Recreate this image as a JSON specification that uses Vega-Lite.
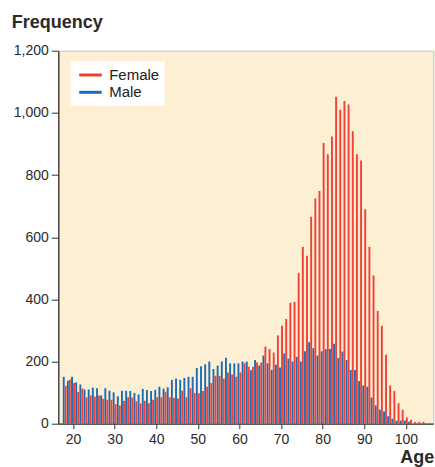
{
  "$schema": "https://vega.github.io/schema/vega-lite/v6.json",
  "width": 375,
  "height": 373,
  "autosize": {"type": "none"},
  "padding": {"left": 58.3, "top": 50.7, "right": 1.7, "bottom": 43},
  "background": "#ffffff",
  "config": {
    "view": {"fill": "#fdefd4", "stroke": "#c4c4c4", "strokeWidth": 1},
    "font": "Liberation Sans",
    "axis": {"labelFont": "Liberation Sans", "titleFont": "Liberation Sans", "labelColor": "#2a2a2a", "titleColor": "#2a2a2a", "domainColor": "#333333", "tickColor": "#333333", "grid": false}
  },
  "data": {"values": [
    {"age":18,"sex":"Female","n":122},{"age":18,"sex":"Male","n":151},
    {"age":19,"sex":"Female","n":142},{"age":19,"sex":"Male","n":138},
    {"age":20,"sex":"Female","n":131},{"age":20,"sex":"Male","n":151},
    {"age":21,"sex":"Female","n":102},{"age":21,"sex":"Male","n":133},
    {"age":22,"sex":"Female","n":113},{"age":22,"sex":"Male","n":126},
    {"age":23,"sex":"Female","n":84},{"age":23,"sex":"Male","n":110},
    {"age":24,"sex":"Female","n":91},{"age":24,"sex":"Male","n":110},
    {"age":25,"sex":"Female","n":87},{"age":25,"sex":"Male","n":116},
    {"age":26,"sex":"Female","n":91},{"age":26,"sex":"Male","n":114},
    {"age":27,"sex":"Female","n":80},{"age":27,"sex":"Male","n":91},
    {"age":28,"sex":"Female","n":77},{"age":28,"sex":"Male","n":114},
    {"age":29,"sex":"Female","n":77},{"age":29,"sex":"Male","n":106},
    {"age":30,"sex":"Female","n":63},{"age":30,"sex":"Male","n":101},
    {"age":31,"sex":"Female","n":59},{"age":31,"sex":"Male","n":88},
    {"age":32,"sex":"Female","n":74},{"age":32,"sex":"Male","n":106},
    {"age":33,"sex":"Female","n":85},{"age":33,"sex":"Male","n":106},
    {"age":34,"sex":"Female","n":84},{"age":34,"sex":"Male","n":105},
    {"age":35,"sex":"Female","n":72},{"age":35,"sex":"Male","n":99},
    {"age":36,"sex":"Female","n":65},{"age":36,"sex":"Male","n":94},
    {"age":37,"sex":"Female","n":74},{"age":37,"sex":"Male","n":112},
    {"age":38,"sex":"Female","n":66},{"age":38,"sex":"Male","n":108},
    {"age":39,"sex":"Female","n":77},{"age":39,"sex":"Male","n":105},
    {"age":40,"sex":"Female","n":85},{"age":40,"sex":"Male","n":109},
    {"age":41,"sex":"Female","n":85},{"age":41,"sex":"Male","n":119},
    {"age":42,"sex":"Female","n":103},{"age":42,"sex":"Male","n":113},
    {"age":43,"sex":"Female","n":85},{"age":43,"sex":"Male","n":117},
    {"age":44,"sex":"Female","n":83},{"age":44,"sex":"Male","n":141},
    {"age":45,"sex":"Female","n":81},{"age":45,"sex":"Male","n":145},
    {"age":46,"sex":"Female","n":106},{"age":46,"sex":"Male","n":141},
    {"age":47,"sex":"Female","n":85},{"age":47,"sex":"Male","n":147},
    {"age":48,"sex":"Female","n":114},{"age":48,"sex":"Male","n":151},
    {"age":49,"sex":"Female","n":99},{"age":49,"sex":"Male","n":151},
    {"age":50,"sex":"Female","n":98},{"age":50,"sex":"Male","n":179},
    {"age":51,"sex":"Female","n":105},{"age":51,"sex":"Male","n":185},
    {"age":52,"sex":"Female","n":119},{"age":52,"sex":"Male","n":191},
    {"age":53,"sex":"Female","n":131},{"age":53,"sex":"Male","n":200},
    {"age":54,"sex":"Female","n":154},{"age":54,"sex":"Male","n":176},
    {"age":55,"sex":"Female","n":154},{"age":55,"sex":"Male","n":187},
    {"age":56,"sex":"Female","n":145},{"age":56,"sex":"Male","n":200},
    {"age":57,"sex":"Female","n":165},{"age":57,"sex":"Male","n":212},
    {"age":58,"sex":"Female","n":158},{"age":58,"sex":"Male","n":194},
    {"age":59,"sex":"Female","n":151},{"age":59,"sex":"Male","n":194},
    {"age":60,"sex":"Female","n":165},{"age":60,"sex":"Male","n":194},
    {"age":61,"sex":"Female","n":194},{"age":61,"sex":"Male","n":200},
    {"age":62,"sex":"Female","n":183},{"age":62,"sex":"Male","n":200},
    {"age":63,"sex":"Female","n":183},{"age":63,"sex":"Male","n":172},
    {"age":64,"sex":"Female","n":197},{"age":64,"sex":"Male","n":205},
    {"age":65,"sex":"Female","n":197},{"age":65,"sex":"Male","n":187},
    {"age":66,"sex":"Female","n":248},{"age":66,"sex":"Male","n":219},
    {"age":67,"sex":"Female","n":240},{"age":67,"sex":"Male","n":194},
    {"age":68,"sex":"Female","n":229},{"age":68,"sex":"Male","n":173},
    {"age":69,"sex":"Female","n":284},{"age":69,"sex":"Male","n":190},
    {"age":70,"sex":"Female","n":315},{"age":70,"sex":"Male","n":181},
    {"age":71,"sex":"Female","n":337},{"age":71,"sex":"Male","n":226},
    {"age":72,"sex":"Female","n":389},{"age":72,"sex":"Male","n":209},
    {"age":73,"sex":"Female","n":392},{"age":73,"sex":"Male","n":200},
    {"age":74,"sex":"Female","n":485},{"age":74,"sex":"Male","n":215},
    {"age":75,"sex":"Female","n":569},{"age":75,"sex":"Male","n":200},
    {"age":76,"sex":"Female","n":540},{"age":76,"sex":"Male","n":233},
    {"age":77,"sex":"Female","n":666},{"age":77,"sex":"Male","n":262},
    {"age":78,"sex":"Female","n":725},{"age":78,"sex":"Male","n":243},
    {"age":79,"sex":"Female","n":749},{"age":79,"sex":"Male","n":219},
    {"age":80,"sex":"Female","n":903},{"age":80,"sex":"Male","n":233},
    {"age":81,"sex":"Female","n":867},{"age":81,"sex":"Male","n":240},
    {"age":82,"sex":"Female","n":924},{"age":82,"sex":"Male","n":240},
    {"age":83,"sex":"Female","n":1052},{"age":83,"sex":"Male","n":257},
    {"age":84,"sex":"Female","n":1010},{"age":84,"sex":"Male","n":211},
    {"age":85,"sex":"Female","n":1038},{"age":85,"sex":"Male","n":232},
    {"age":86,"sex":"Female","n":1027},{"age":86,"sex":"Male","n":205},
    {"age":87,"sex":"Female","n":941},{"age":87,"sex":"Male","n":173},
    {"age":88,"sex":"Female","n":867},{"age":88,"sex":"Male","n":173},
    {"age":89,"sex":"Female","n":847},{"age":89,"sex":"Male","n":137},
    {"age":90,"sex":"Female","n":690},{"age":90,"sex":"Male","n":123},
    {"age":91,"sex":"Female","n":569},{"age":91,"sex":"Male","n":119},
    {"age":92,"sex":"Female","n":477},{"age":92,"sex":"Male","n":84},
    {"age":93,"sex":"Female","n":363},{"age":93,"sex":"Male","n":59},
    {"age":94,"sex":"Female","n":315},{"age":94,"sex":"Male","n":45},
    {"age":95,"sex":"Female","n":222},{"age":95,"sex":"Male","n":39},
    {"age":96,"sex":"Female","n":123},{"age":96,"sex":"Male","n":24},
    {"age":97,"sex":"Female","n":105},{"age":97,"sex":"Male","n":16},
    {"age":98,"sex":"Female","n":66},{"age":98,"sex":"Male","n":10},
    {"age":99,"sex":"Female","n":45},{"age":99,"sex":"Male","n":10},
    {"age":100,"sex":"Female","n":20},{"age":100,"sex":"Male","n":10},
    {"age":101,"sex":"Female","n":13},{"age":101,"sex":"Male","n":6},
    {"age":102,"sex":"Female","n":6},{"age":102,"sex":"Male","n":0},
    {"age":103,"sex":"Female","n":6},{"age":103,"sex":"Male","n":0},
    {"age":104,"sex":"Female","n":6},{"age":104,"sex":"Male","n":0}
  ]},
  "encoding": {
    "x": {"field": "age", "type": "quantitative",
      "scale": {"domain": [17.66, 105.4], "nice": false, "zero": false},
      "axis": {"values": [20,30,40,50,60,70,80,90,100], "labelFontSize": 14, "tickSize": 5, "labelPadding": 4, "domainWidth": 1.3,
        "title": "Age", "titleFontSize": 18, "titleFontWeight": "bold", "titleAlign": "right", "titleBaseline": "alphabetic", "titleX": 375.5, "titleY": 38.5}},
    "y": {"field": "n", "type": "quantitative",
      "scale": {"domain": [0, 1200], "nice": false},
      "axis": {"values": [0,200,400,600,800,1000,1200], "format": ",d", "labelFontSize": 14, "tickSize": 7, "labelPadding": 3, "domainWidth": 1.3,
        "title": "Frequency", "titleFontSize": 18, "titleFontWeight": "bold", "titleAngle": 0, "titleAlign": "left", "titleBaseline": "alphabetic", "titleX": -47, "titleY": -23.5}},
    "color": {"field": "sex", "type": "nominal",
      "scale": {"domain": ["Female", "Male"], "range": ["#ef4136", "#1c6db5"]},
      "legend": {"title": null, "orient": "none", "legendX": 12.4, "legendY": 10.3, "fillColor": "#ffffff", "padding": 5, "symbolOffset": 5.75,
        "symbolType": "M-1.5,0H1.5", "symbolSize": 225, "symbolStrokeWidth": 3, "labelFontSize": 15, "labelColor": "#222222", "labelOffset": 9.75, "rowPadding": 0.3, "labelFont": "Liberation Sans",
        "encode": {"symbols": {"update": {"stroke": {"scale": "color", "field": "value"}, "strokeWidth": {"value": 3}, "fill": {"value": "transparent"}}}}}}
  },
  "layer": [
    {"transform": [{"filter": "datum.sex === 'Male'"}], "mark": {"type": "bar", "width": 1.9, "xOffset": -1.0}},
    {"transform": [{"filter": "datum.sex === 'Female'"}], "mark": {"type": "bar", "width": 1.9, "xOffset": 1.0}}
  ]
}
